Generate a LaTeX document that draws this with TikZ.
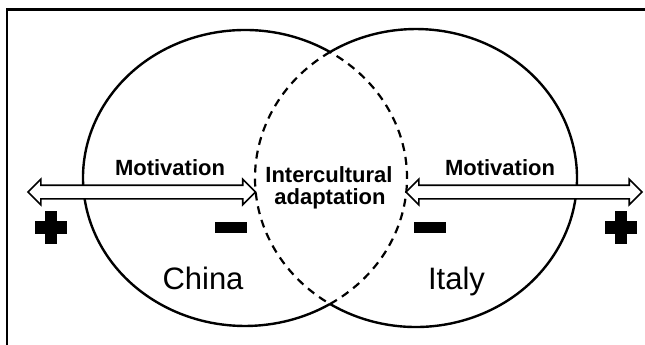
\documentclass[tikz,border=0pt]{standalone}
\usepackage{fontspec}
\setmainfont{Liberation Sans}
\usetikzlibrary{shapes.arrows,calc}
\tikzset{>=latex}
\tikzset{
  outer/.style={line width=2.4pt},
  inner/.style={line width=2.2pt, dash pattern=on 8pt off 6pt},
  motiv/.style={double arrow, draw, line width=1.6pt, fill=white,
    inner sep=6pt, double arrow head extend=6pt, minimum width=24pt},
  bigtxt/.style={font=\fontsize{31}{31}\selectfont, anchor=base},
  boldtxt/.style={font=\fontsize{22}{22}\selectfont\bfseries, anchor=base},
}

\begin{document}
\begin{tikzpicture}[x=1pt, y=1pt]

  \useasboundingbox (0,0) rectangle (645,-345);

  % Frame
  \draw[line width=2.5pt] (7,-346) -- (7,-9.7) -- (646,-9.7);

  % Centres
  \coordinate (chinac) at (245,-178);
  \coordinate (italyc) at (416,-178);

  % Circles
  \draw[outer] (chinac) ++(58.35:162pt and 148pt)
    arc[start angle=58.35, end angle=301.65, x radius=162pt, y radius=148pt];
  \draw[inner] (chinac) ++(-58.35:162pt and 148pt)
    arc[start angle=-58.35, end angle=58.35, x radius=162pt, y radius=148pt];
  \draw[outer] (italyc) ++(-122.29:161pt and 149pt)
    arc[start angle=-122.29, end angle=122.29, x radius=161pt, y radius=149pt];
  \draw[inner] (italyc) ++(122.29:161pt and 149pt)
    arc[start angle=122.29, end angle=237.71, x radius=161pt, y radius=149pt];

  % Arrows
  \coordinate (ltip) at (28,-192);
  \coordinate (lend) at (255.5,-192);
  \coordinate (rtip) at (406,-192);
  \coordinate (rend) at (642,-192);
  \node[motiv, minimum height=227.5pt] (larrow) at ($(ltip)!0.5!(lend)$) {};
  \node[motiv, minimum height=236pt]   (rarrow) at ($(rtip)!0.5!(rend)$) {};

  % Labels
  \node[boldtxt] (motl) at (170,-175) {Motivation};
  \node[boldtxt] (motr) at (500,-175) {Motivation};
  \node[boldtxt] (inter) at (329,-182) {Intercultural};
  \node[boldtxt] (adapt) at (330,-204.3) {adaptation};
  \node[bigtxt] (china) at (203,-289.3) {China};
  \node[bigtxt] (italy) at (456.5,-289.3) {Italy};

  % Signs
  \coordinate (plusl) at (51,-227);
  \coordinate (plusr) at (620.5,-227);
  \coordinate (minusl) at (231,-227.5);
  \coordinate (minusr) at (430,-227.5);
  \fill (plusl) ++(-16,-6.5) rectangle ++(32,13);
  \fill (plusl) ++(-6,-16.5) rectangle ++(12,33);
  \fill (plusr) ++(-16,-6.5) rectangle ++(32,13);
  \fill (plusr) ++(-6,-16.5) rectangle ++(12,33);
  \fill (minusl) ++(-16,-5.5) rectangle ++(32,11);
  \fill (minusr) ++(-16,-5.5) rectangle ++(32,11);

\end{tikzpicture}
\end{document}
